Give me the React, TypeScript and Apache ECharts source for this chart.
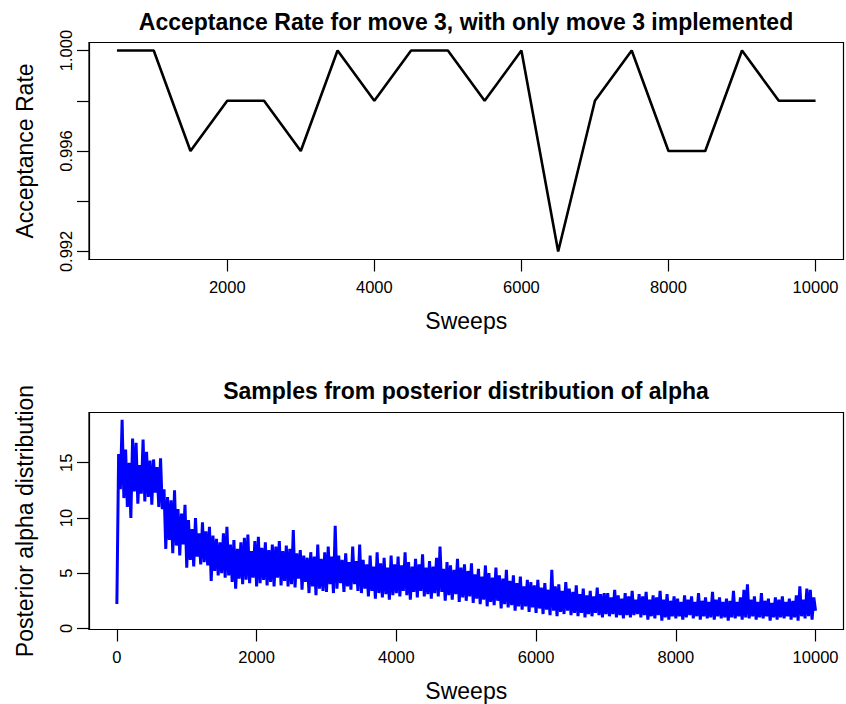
import React, { useEffect, useRef } from 'react';
import * as echarts from 'echarts';

// top panel: acceptance rate every 500 sweeps
const acceptanceSweeps = [500, 1000, 1500, 2000, 2500, 3000, 3500, 4000, 4500, 5000, 5500, 6000, 6500, 7000, 7500, 8000, 8500, 9000, 9500, 10000];
const acceptanceRates = [1.0, 1.0, 0.996, 0.998, 0.998, 0.996, 1.0, 0.998, 1.0, 1.0, 0.998, 1.0, 0.992, 0.998, 1.0, 0.996, 0.996, 1.0, 0.998, 0.998];
const topXTicks = [2000, 4000, 6000, 8000, 10000];
const topYTicks = [0.992, 0.994, 0.996, 0.998, 1.0];
const topYLabels = [0.992, 0.996, 1.0];

// bottom panel: alpha trace, one reading every 25 sweeps (20 readings per row = 500 sweeps)
const alphaStep = 25;
const alphaSamples = [
  2.2, 15.8, 12.6, 18.9, 11.8, 16.2, 11.0, 15.0, 10.0, 17.2, 12.4, 16.8, 11.3, 14.8, 12.2, 17.1, 11.5, 16.0, 11.9, 15.2,
  11.2, 15.3, 12.3, 14.6, 11.0, 15.4, 10.8, 12.6, 7.2, 11.9, 8.0, 11.6, 6.8, 12.5, 7.5, 10.8, 6.6, 10.4, 7.6, 11.2,
  5.5, 9.8, 6.2, 9.0, 5.6, 10.0, 6.5, 8.6, 5.8, 9.6, 6.0, 8.8, 5.7, 9.2, 4.3, 8.4, 5.2, 8.1, 4.8, 7.8,
  5.0, 8.6, 4.6, 9.2, 4.8, 7.6, 4.2, 8.0, 3.6, 7.2, 4.5, 7.8, 4.0, 8.2, 4.4, 8.5, 4.1, 7.0, 4.6, 7.9,
  3.8, 8.3, 4.1, 7.3, 4.4, 7.8, 3.9, 7.1, 4.2, 7.6, 3.8, 7.4, 4.6, 7.9, 3.9, 7.0, 4.3, 7.5, 3.8, 7.2,
  4.0, 8.9, 3.7, 6.8, 4.5, 7.1, 3.5, 6.6, 4.2, 6.4, 3.2, 6.9, 3.8, 6.5, 3.0, 7.6, 3.6, 6.3, 3.4, 6.9,
  3.3, 7.4, 4.0, 6.5, 3.2, 9.3, 3.6, 6.6, 4.1, 6.2, 3.3, 6.8, 3.8, 6.0, 3.5, 7.4, 4.0, 6.1, 3.4, 7.6,
  3.2, 6.2, 3.6, 5.8, 2.9, 6.6, 3.4, 5.6, 2.7, 6.9, 3.2, 5.9, 2.8, 6.4, 3.1, 5.5, 2.6, 6.6, 3.0, 5.8,
  3.2, 6.5, 2.9, 5.7, 3.4, 6.9, 3.0, 6.0, 2.6, 5.6, 3.3, 6.3, 2.8, 5.8, 3.4, 6.7, 2.9, 5.5, 3.1, 6.1,
  2.7, 5.6, 3.2, 6.4, 2.9, 7.4, 3.3, 5.4, 2.5, 6.0, 3.0, 5.7, 2.6, 5.3, 3.1, 6.3, 2.4, 5.5, 2.8, 5.8,
  2.5, 5.2, 2.9, 5.9, 2.3, 4.9, 2.7, 5.4, 2.2, 4.7, 2.6, 5.7, 2.0, 5.0, 2.4, 4.6, 2.1, 5.5, 2.5, 4.8,
  1.8, 4.5, 2.2, 5.3, 1.9, 4.3, 2.1, 4.8, 1.6, 4.1, 2.0, 4.7, 1.7, 3.8, 2.0, 4.4, 1.5, 4.2, 1.9, 3.9,
  1.4, 4.4, 1.8, 3.7, 1.3, 4.1, 1.7, 3.5, 1.2, 5.3, 1.6, 3.8, 1.1, 4.0, 1.5, 3.4, 1.3, 4.2, 1.6, 3.6,
  1.2, 3.3, 1.4, 3.9, 1.1, 3.1, 1.4, 3.6, 1.0, 3.0, 1.3, 3.4, 1.1, 2.9, 1.4, 3.7, 1.2, 3.1, 1.0, 3.2,
  1.3, 3.2, 1.1, 2.8, 1.3, 3.5, 1.0, 3.0, 1.2, 2.7, 0.9, 3.2, 1.2, 2.9, 1.0, 3.4, 1.2, 2.6, 1.3, 3.1,
  1.0, 2.9, 1.2, 3.3, 0.8, 2.6, 1.1, 3.0, 0.9, 2.8, 1.2, 3.4, 0.7, 2.6, 1.0, 3.1, 0.8, 2.5, 1.1, 2.9,
  0.9, 2.7, 1.1, 2.4, 0.8, 3.0, 1.0, 2.6, 1.2, 2.9, 0.9, 2.4, 1.1, 3.2, 0.8, 2.5, 1.1, 2.8, 0.9, 2.4,
  1.0, 3.3, 0.8, 2.6, 1.1, 2.8, 0.9, 2.4, 1.0, 2.7, 0.7, 2.5, 1.0, 3.4, 0.9, 2.4, 1.1, 2.8, 0.8, 3.5,
  1.0, 4.0, 0.9, 2.6, 1.1, 2.9, 0.8, 2.4, 1.0, 3.2, 0.9, 2.5, 1.1, 2.7, 0.7, 2.3, 1.0, 2.8, 0.8, 2.6,
  1.0, 2.9, 0.9, 2.4, 1.1, 2.7, 0.8, 2.5, 1.0, 3.0, 0.7, 3.8, 1.1, 2.6, 0.9, 3.6, 1.1, 3.5, 0.8, 2.8,
  1.6,
];
const bottomXTicks = [0, 2000, 4000, 6000, 8000, 10000];
const bottomYTicks = [0, 5, 10, 15];

const FONT = "'Liberation Sans', Arial, Helvetica, sans-serif";

const axisBase = (extra: any) => ({
  type: 'value',
  axisLine: { show: true, onZero: false, lineStyle: { color: '#000', width: 1.2 } },
  splitLine: { show: false },
  nameLocation: 'middle',
  nameTextStyle: { fontSize: 23, color: '#000', fontFamily: FONT },
  ...extra,
});

const tickStyle = (values: number[]) => ({
  show: true,
  length: 12,
  customValues: values,
  lineStyle: { color: '#000', width: 1.2 },
});

const App = () => {
  const chartRef = useRef<HTMLDivElement>(null);

  useEffect(() => {
    if (!chartRef.current) return;
    const chart = echarts.init(chartRef.current, null, { renderer: 'svg' });

    const labelStyle = { fontSize: 16.5, color: '#000', fontFamily: FONT };
    const titleStyle = { fontSize: 23, fontWeight: 'bold', color: '#000', fontFamily: FONT };

    chart.setOption({
      animation: false,
      backgroundColor: '#fff',
      title: [
        {
          text: 'Acceptance Rate for move 3, with only move 3 implemented',
          left: 466,
          top: 10,
          padding: 0,
          textAlign: 'center',
          textStyle: titleStyle,
        },
        {
          text: 'Samples from posterior distribution of alpha',
          left: 466,
          top: 379,
          padding: 0,
          textAlign: 'center',
          textStyle: titleStyle,
        },
      ],
      grid: [
        { left: 89, top: 42.5, width: 754.5, height: 217, show: true, borderColor: '#000', borderWidth: 1.2, outerBoundsMode: 'none' },
        { left: 89, top: 412.5, width: 754.5, height: 217, show: true, borderColor: '#000', borderWidth: 1.2, outerBoundsMode: 'none' },
      ],
      xAxis: [
        axisBase({
          gridIndex: 0,
          min: 120,
          max: 10380,
          axisTick: tickStyle(topXTicks),
          axisLabel: { ...labelStyle, customValues: topXTicks, margin: 19, formatter: (v: number) => String(v) },
          name: 'Sweeps',
          nameGap: 50,
        }),
        axisBase({
          gridIndex: 1,
          min: -399,
          max: 10400,
          axisTick: tickStyle(bottomXTicks),
          axisLabel: { ...labelStyle, customValues: bottomXTicks, margin: 19, formatter: (v: number) => String(v) },
          name: 'Sweeps',
          nameGap: 50,
        }),
      ],
      yAxis: [
        axisBase({
          gridIndex: 0,
          min: 0.99168,
          max: 1.00032,
          axisTick: tickStyle(topYTicks),
          axisLabel: {
            ...labelStyle,
            customValues: topYLabels,
            rotate: 90,
            margin: 15,
            formatter: (v: number) => v.toFixed(3),
          },
          name: 'Acceptance Rate',
          nameGap: 53,
        }),
        axisBase({
          gridIndex: 1,
          min: -0.1,
          max: 19.55,
          axisTick: tickStyle(bottomYTicks),
          axisLabel: { ...labelStyle, customValues: bottomYTicks, rotate: 90, margin: 15, formatter: (v: number) => String(v) },
          name: 'Posterior alpha distribution',
          nameGap: 53,
        }),
      ],
      series: [
        {
          type: 'line',
          xAxisIndex: 0,
          yAxisIndex: 0,
          data: acceptanceSweeps.map((s, i) => [s, acceptanceRates[i]]),
          symbol: 'none',
          showSymbol: false,
          silent: true,
          lineStyle: { color: '#000', width: 2.6 },
        },
        {
          type: 'line',
          xAxisIndex: 1,
          yAxisIndex: 1,
          data: alphaSamples.map((v, i) => [i * alphaStep, v]),
          symbol: 'none',
          showSymbol: false,
          silent: true,
          lineStyle: { color: '#0000ff', width: 3 },
        },
      ],
    });

    return () => {
      chart.dispose();
    };
  }, []);

  return (
    <div
      ref={chartRef}
      style={{ position: 'absolute', left: 0, top: 0, width: '846px', height: '704px' }}
    />
  );
};

export default App;
